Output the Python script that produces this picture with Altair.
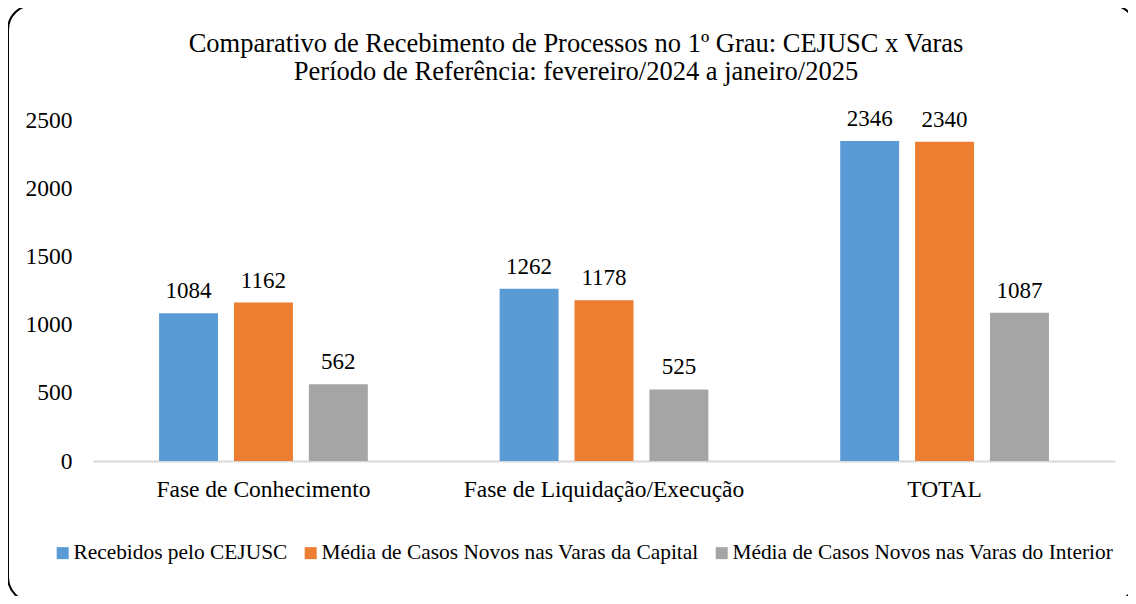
import altair as alt
import pandas as pd

title_lines = [
    "Comparativo de Recebimento de Processos no 1º Grau: CEJUSC x Varas",
    "Período de Referência: fevereiro/2024 a janeiro/2025",
]
categories = ["Fase de Conhecimento", "Fase de Liquidação/Execução", "TOTAL"]
series = [
    "Recebidos pelo CEJUSC",
    "Média de Casos Novos nas Varas da Capital",
    "Média de Casos Novos nas Varas do Interior",
]
recebidos_cejusc = [1084, 1262, 2346]
media_capital = [1162, 1178, 2340]
media_interior = [562, 525, 1087]
colors = ["#5B9BD5", "#ED7D31", "#A5A5A5"]
y_ticks = [0, 500, 1000, 1500, 2000, 2500]

rows = []
for s, vals in zip(series, [recebidos_cejusc, media_capital, media_interior]):
    for c, v in zip(categories, vals):
        rows.append({"categoria": c, "serie": s, "valor": v})
df = pd.DataFrame(rows)

FONT = "Liberation Serif"

x = alt.X(
    "categoria:N",
    sort=categories,
    title=None,
    scale=alt.Scale(paddingInner=0.387, paddingOuter=0.194),
    axis=alt.Axis(
        labelAngle=0,
        ticks=False,
        domainColor="#d9d9d9",
        domainWidth=2,
        labelPadding=16,
        labelFontSize=23.5,
        labelColor="#000000",
        labelLimit=400,
    ),
)
xoff = alt.XOffset(
    "serie:N", sort=series, scale=alt.Scale(paddingInner=0.213, paddingOuter=0)
)
y = alt.Y(
    "valor:Q",
    title=None,
    scale=alt.Scale(domain=[0, 2500], nice=False),
    axis=alt.Axis(
        values=y_ticks,
        format="d",
        grid=False,
        domain=False,
        ticks=False,
        labelPadding=21,
        labelFontSize=23.5,
        labelColor="#000000",
    ),
)
color = alt.Color(
    "serie:N",
    sort=series,
    scale=alt.Scale(domain=series, range=colors),
    legend=alt.Legend(
        title=None,
        orient="none",
        direction="horizontal",
        legendX=-41,
        legendY=422,
        padding=0,
        symbolType="square",
        symbolSize=144,
        symbolStrokeWidth=0,
        symbolOpacity=1,
        labelFontSize=21.4,
        labelColor="#000000",
        labelLimit=500,
        columnPadding=12,
        symbolOffset=0,
        labelOffset=0,
    ),
)

bars = alt.Chart(df).mark_bar(opacity=1).encode(x=x, xOffset=xoff, y=y, color=color)
labels = alt.Chart(df).mark_text(
    baseline="alphabetic", dy=-15, fontSize=23, color="#000000"
).encode(x=x, xOffset=xoff, y=y, text="valor:Q")

one = pd.DataFrame({"a": [0]})
title_mark = alt.Chart(one).mark_text(
    text=title_lines,
    fontSize=26.5,
    lineHeight=28,
    baseline="alphabetic",
    align="center",
    color="#000000",
    clip=False,
).encode(x=alt.value(483), y=alt.value(-68))

border = alt.Chart(one).mark_rect(
    fill=None, stroke="#000000", strokeWidth=2, cornerRadius=25, clip=False
).encode(
    x=alt.value(-85), x2=alt.value(1043), y=alt.value(-115), y2=alt.value(482)
)

chart = (
    alt.layer(border, title_mark, bars, labels)
    .properties(
        width=1022,
        height=341,
        autosize=alt.AutoSizeParams(type="none"),
        padding={"left": 85, "top": 112, "right": 13, "bottom": 135},
    )
    .configure(font=FONT)
    .configure_axis(labelFont=FONT)
    .configure_legend(labelFont=FONT)
    .configure_text(font=FONT)
    .configure_view(stroke=None)
)

chart.save("out.html", embed_options={"renderer": "svg", "actions": False})
